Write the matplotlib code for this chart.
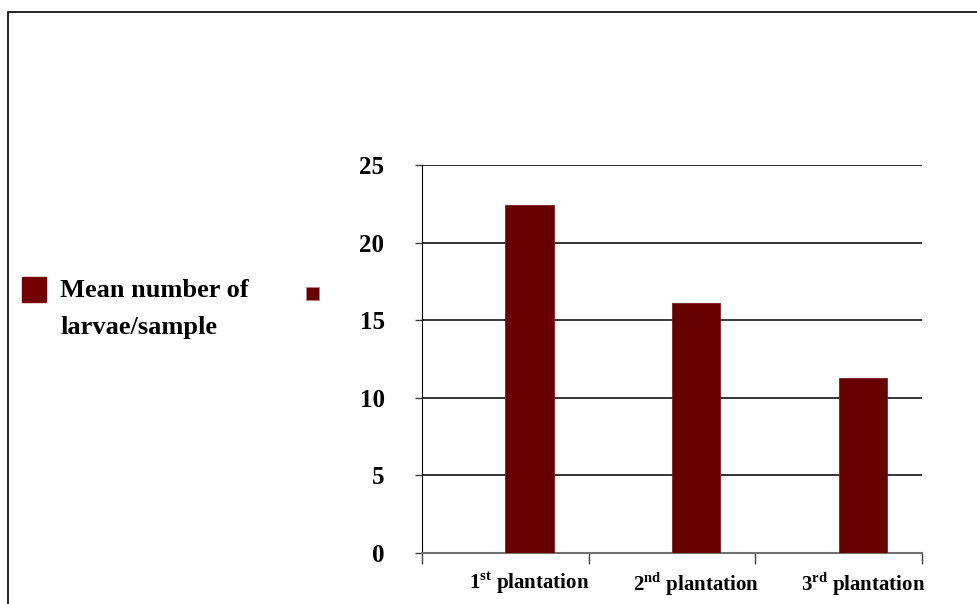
import matplotlib
matplotlib.use("Agg")
import matplotlib.pyplot as plt
from matplotlib.patches import Rectangle

# Data
categories = ["1$^{\\mathbf{st}}$ plantation", "2$^{\\mathbf{nd}}$ plantation", "3$^{\\mathbf{rd}}$ plantation"]
mean_larvae = [22.4, 16.1, 11.3]
series_label = "Mean number of\nlarvae/sample"
y_ticks = [0, 5, 10, 15, 20, 25]

plt.rcParams['font.family'] = ['Liberation Serif', 'DejaVu Serif']
plt.rcParams['font.weight'] = 'bold'
plt.rcParams['mathtext.fontset'] = 'custom'
plt.rcParams['mathtext.rm'] = 'Liberation Serif:bold'
plt.rcParams['mathtext.bf'] = 'Liberation Serif:bold'

W, H = 977, 604
fig = plt.figure(figsize=(W / 100, H / 100), dpi=100)

# outer chart border
fig.patches.append(Rectangle((8 / W, -0.05), 1.1, 1 - 12 / H + 0.05,
                             transform=fig.transFigure, fill=False,
                             edgecolor='black', linewidth=1.2))

ax = fig.add_axes([422 / W, 1 - 553 / H, 500 / W, (553 - 165) / H])

bar_color = '#660000'
width = 0.29
x = list(range(len(categories)))
ax.bar(x, mean_larvae, width=width, align='edge', color=bar_color,
       edgecolor='#7a2020', linewidth=0.6, zorder=3)

ax.set_xlim(-0.5, 2.5)
ax.set_ylim(0, 25)
ax.set_yticks(y_ticks)
ax.set_yticklabels([str(v) for v in y_ticks], fontsize=18, fontweight='bold')
ax.tick_params(axis='y', length=5, width=1, pad=22, color='#404040')
ax.grid(axis='y', color='#353535', linewidth=1.4, zorder=1)

# category labels under the bars, boundary tick marks as minor ticks
ax.set_xticks([i + width / 2 for i in x])
ax.set_xticklabels(categories, fontsize=15, fontweight='bold')
ax.tick_params(axis='x', which='major', length=0, pad=12)
ax.set_xticks([-0.5, 0.5, 1.5, 2.5], minor=True)
ax.tick_params(axis='x', which='minor', length=8, width=1, color='#404040')

for side in ['top', 'right']:
    ax.spines[side].set_visible(False)
ax.spines['left'].set_color('black')
ax.spines['bottom'].set_color('#707070')
ax.spines['bottom'].set_linewidth(1.5)

# legend drawn by hand on the left
fig.patches.append(Rectangle((22 / W, 1 - 302 / H), 24 / W, 25 / H,
                             transform=fig.transFigure, color='#740000'))
fig.patches.append(Rectangle((306 / W, 1 - 300 / H), 13 / W, 13 / H,
                             transform=fig.transFigure, facecolor='#660000',
                             edgecolor='#c08080', linewidth=0.6))
fig.text(60 / W, 1 - 309 / H, series_label, fontsize=19, fontweight='bold',
         ha='left', va='center', linespacing=1.75)

fig.savefig("out.png", dpi=100)
